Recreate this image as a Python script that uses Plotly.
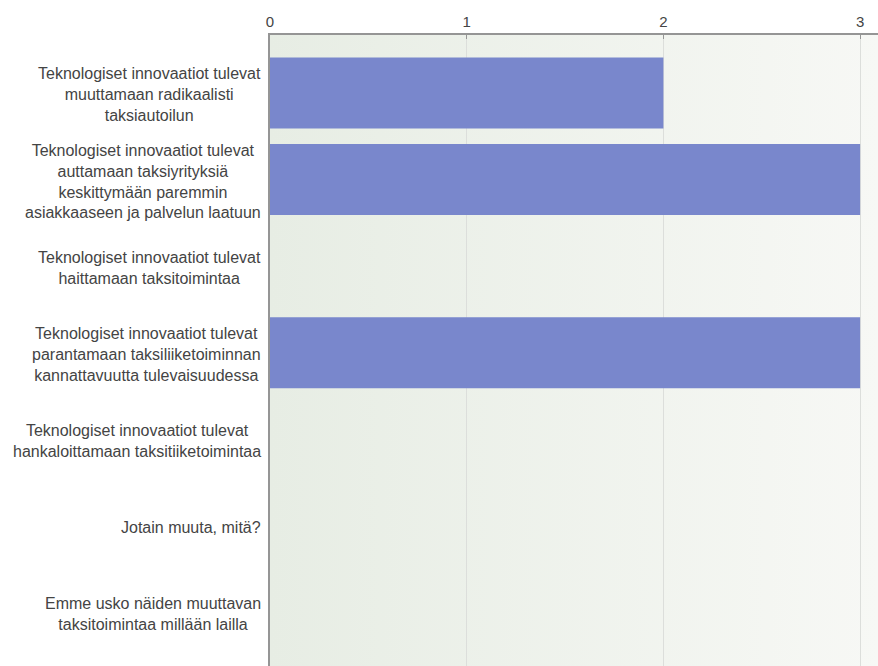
import base64
import plotly.graph_objects as go

categories = [
    "Teknologiset innovaatiot tulevat<br>muuttamaan radikaalisti<br>taksiautoilun",
    "Teknologiset innovaatiot tulevat<br>auttamaan taksiyrityksiä<br>keskittymään paremmin<br>asiakkaaseen ja palvelun laatuun",
    "Teknologiset innovaatiot tulevat<br>haittamaan taksitoimintaa",
    "Teknologiset innovaatiot tulevat<br>parantamaan taksiliiketoiminnan<br>kannattavuutta tulevaisuudessa",
    "Teknologiset innovaatiot tulevat<br>hankaloittamaan taksitiiketoimintaa",
    "Jotain muuta, mitä?",
    "Emme usko näiden muuttavan<br>taksitoimintaa millään lailla",
]
values = [2, 3, 0, 3, 0, 0, 0]
x_ticks = [0, 1, 2, 3]

pos = list(range(len(categories)))
FONT = "Liberation Sans, Arial, sans-serif"

svg = ('<svg xmlns="http://www.w3.org/2000/svg" width="100" height="100" '
       'preserveAspectRatio="none" viewBox="0 0 100 100">'
       '<defs><linearGradient id="g" x1="0" y1="0" x2="1" y2="0">'
       '<stop offset="0" stop-color="#e7ede4"/><stop offset="1" stop-color="#f7f8f5"/>'
       '</linearGradient></defs><rect width="100" height="100" fill="url(#g)"/></svg>')
bg_uri = "data:image/svg+xml;base64," + base64.b64encode(svg.encode()).decode()

fig = go.Figure()
fig.add_trace(go.Bar(
    x=values, y=pos, orientation="h",
    marker=dict(color="#7987cc", line=dict(width=0)),
    width=0.82,
    hoverinfo="x",
))

annotations = []
for p, c in zip(pos, categories):
    annotations.append(dict(
        x=0, xref="paper", y=p, yref="y", text=c, showarrow=False,
        xanchor="right", yanchor="middle", align="center", xshift=-7, yshift=-2,
        font=dict(family=FONT, size=16, color="#444444"),
    ))

fig.update_layout(
    width=878, height=666,
    margin=dict(l=270, r=0, t=35, b=0),
    paper_bgcolor="white",
    plot_bgcolor="#eef1eb",
    showlegend=False,
    bargap=0.18,
    annotations=annotations,
    images=[dict(
        source=bg_uri, xref="x domain", yref="y domain", x=0, y=1,
        sizex=1, sizey=1, xanchor="left", yanchor="top",
        sizing="stretch", layer="below",
    )],
    xaxis=dict(
        side="top", range=[0, 3.091], tickvals=x_ticks,
        ticktext=[str(t) for t in x_ticks],
        showgrid=True, gridcolor="#dcdedb", gridwidth=1,
        showline=True, linecolor="#959595", linewidth=1.5,
        ticks="inside", ticklen=4, tickcolor="#959595",
        tickfont=dict(family=FONT, size=15, color="#444444"),
        zeroline=False, fixedrange=True,
    ),
    yaxis=dict(
        range=[6.62, -0.67], showticklabels=False, showgrid=False,
        showline=True, linecolor="#959595", linewidth=1.5,
        zeroline=False, ticks="", fixedrange=True,
    ),
)

fig.write_html("out.html")
